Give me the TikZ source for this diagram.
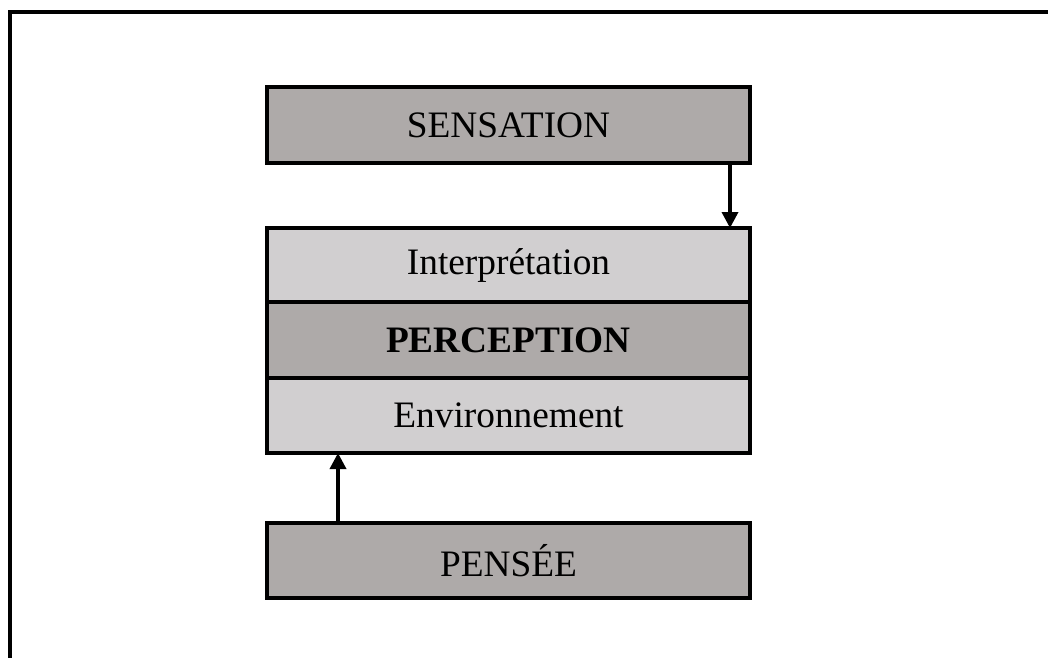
\documentclass[tikz,border=0pt]{standalone}
\usepackage{fontspec}
\setmainfont{Liberation Serif}
\usetikzlibrary{arrows.meta}
\definecolor{boxdark}{RGB}{174,170,169}
\definecolor{boxlight}{RGB}{209,207,208}
\tikzset{
  panel/.style={draw=black, line width=2.4pt, minimum width=483*0.75pt,
    inner sep=0pt, outer sep=0pt, anchor=north west,
    font=\fontsize{28}{33}\selectfont},
  darkpanel/.style={panel, fill=boxdark},
  lightpanel/.style={panel, fill=boxlight},
  link/.style={line width=2.6pt, -{Triangle[length=12pt, width=12pt]}}
}
\begin{document}
\begin{tikzpicture}[x=0.75pt, y=-0.75pt]
  \useasboundingbox (0,0) rectangle (1048,657);
  % outer frame, running off the right and bottom edges
  \draw[line width=2.4pt] (10,670) -- (10,12) -- (1060,12);

  \node[darkpanel, minimum height=76*0.75pt] (sens) at (267,87) {SENSATION};
  \node[lightpanel, minimum height=74*0.75pt] (interp) at (267,228) {Interprétation};
  \node[darkpanel, minimum height=76*0.75pt, font=\fontsize{28}{33}\selectfont\bfseries] (perc) at (267,302) {PERCEPTION};
  \node[lightpanel, minimum height=75*0.75pt] (env) at (267,378) {Environnement};
  \node[darkpanel, minimum height=75*0.75pt] (pens) at (267,523) {PENSÉE};

  \draw[link] ([xshift=-20*0.75pt]sens.south east) -- ([xshift=-20*0.75pt]interp.north east);
  \draw[link] ([xshift=71*0.75pt]pens.north west) -- ([xshift=71*0.75pt]env.south west);
\end{tikzpicture}
\end{document}
